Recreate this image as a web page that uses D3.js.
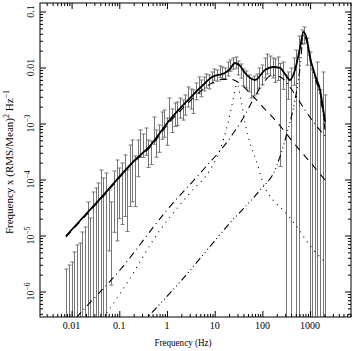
<!DOCTYPE html>
<html>
<head>
<meta charset="utf-8">
<script src="https://cdn.jsdelivr.net/npm/d3@7"></script>
<style>
body { margin: 0; background: #fff; }
svg { display: block; }
text { font-family: "Liberation Serif", "DejaVu Serif", serif; fill: #000; }
</style>
</head>
<body>
<svg width="354" height="351"></svg>
<script>
// measured power spectrum (frequency x power) with 1-sigma errors
var freq = [0.0078, 0.00886, 0.01007, 0.01143, 0.01299, 0.01476, 0.01676, 0.01904, 0.02163, 0.02458,
  0.02792, 0.03172, 0.03603, 0.04093, 0.0465, 0.05282, 0.06001, 0.06817, 0.07744, 0.08797,
  0.09994, 0.1135, 0.129, 0.1465, 0.1665, 0.1891, 0.2148, 0.244, 0.2772, 0.3149,
  0.3578, 0.4064, 0.4617, 0.5245, 0.5958, 0.6769, 0.769, 0.8736, 0.9924, 1.127,
  1.281, 1.455, 1.653, 1.877, 2.133, 2.423, 2.752, 3.127, 3.552, 4.035,
  4.584, 5.207, 5.915, 6.72, 7.634, 8.672, 9.852, 11.19, 12.71, 14.44,
  16.41, 18.64, 21.18, 24.06, 27.33, 31.05, 35.27, 40.07, 45.52, 51.71,
  58.74, 66.73, 75.81, 86.12, 97.83, 111.1, 126.3, 143.4, 162.9, 185.1,
  210.3, 238.9, 271.4, 308.3, 350.2, 397.8, 451.9, 513.4, 583.2, 662.5,
  752.6, 855, 971.3, 1103, 1253, 1424, 1618, 1838, 2088];
var power = [1.06e-6, 1.31e-6, 1.74e-6, 2.23e-6, 3.36e-6, 3.36e-6, 5.51e-6, 6.77e-6, 1.74e-5, 9.02e-6,
  2.63e-5, 3.36e-5, 4.31e-5, 7.05e-5, 5.08e-5, 6.49e-5, 3.51e-5, 2.05e-5, 7.66e-5, 1.155e-4,
  9.02e-5, 1.064e-4, 1.478e-4, 7.98e-5, 2.23e-4, 2.74e-4, 1.478e-4, 3.10e-4, 5.08e-4, 4.49e-4,
  5.51e-4, 3.36e-4, 3.36e-4, 8.66e-4, 5.08e-4, 6.23e-4, 1.064e-3, 1.155e-3, 8.31e-4, 1.971e-3,
  1.254e-3, 1.604e-3, 1.672e-3, 2.05e-3, 1.891e-3, 2.32e-3, 3.23e-3, 2.97e-3, 2.74e-3, 3.97e-3,
  5.08e-3, 4.49e-3, 5.29e-3, 5.98e-3, 5.74e-3, 6.77e-3, 7.66e-3, 7.35e-3, 8.66e-3, 8.31e-3,
  7.98e-3, 9.80e-3, 1.108e-2, 1.204e-2, 1.254e-2, 1.021e-2, 9.02e-3, 7.05e-3, 6.49e-3, 5.51e-3,
  4.67e-3, 5.08e-3, 5.51e-3, 7.05e-3, 7.98e-3, 1.064e-2, 1.254e-2, 1.155e-2, 1.064e-2, 9.80e-3,
  1.064e-2, 5.98e-3, 8.31e-3, 3.23e-3, 5.51e-3, 3.97e-3, 9.80e-3, 8.31e-3, 1.478e-2, 3.65e-2,
  3.97e-2, 2.23e-2, 9.02e-3, 3.23e-3, 2.63e-3, 4.87e-3, 1.742e-3, 3.23e-3, 1.155e-3];
var powerErr = [1.46e-6, 1.66e-6, 1.62e-6, 2.85e-6, 3.41e-6, 3.99e-6, 6.04e-6, 7.41e-6, 2.22e-5, 1.15e-5,
  3.35e-5, 3.69e-5, 4.35e-5, 7.73e-5, 5.56e-5, 6.57e-5, 2.98e-5, 1.92e-5, 6.52e-5, 1.075e-4,
  7.02e-5, 9.07e-5, 1.26e-4, 6.8e-5, 1.9e-4, 2.34e-4, 1.15e-4, 1.98e-4, 2.58e-4, 2.0e-4,
  2.8e-4, 1.72e-4, 1.51e-4, 4.4e-4, 2.58e-4, 3.17e-4, 5.4e-4, 5.87e-4, 4.23e-4, 8.8e-4,
  5.62e-4, 7.2e-4, 7.5e-4, 8.0e-4, 7.4e-4, 9.1e-4, 1.26e-3, 1.16e-3, 1.23e-3, 1.32e-3,
  1.69e-3, 1.49e-3, 1.48e-3, 1.68e-3, 1.61e-3, 1.54e-3, 1.74e-3, 1.67e-3, 1.98e-3, 1.9e-3,
  1.82e-3, 2.74e-3, 2.53e-3, 2.74e-3, 2.86e-3, 2.85e-3, 2.53e-3, 2.35e-3, 2.17e-3, 1.84e-3,
  1.82e-3, 1.97e-3, 2.15e-3, 2.75e-3, 3.1e-3, 4.14e-3, 4.88e-3, 4.49e-3, 4.14e-3, 4.38e-3,
  4.76e-3, 5.81e-3, 4.23e-3, 4.12e-3, 2.8e-3, 5.83e-3, 4.98e-3, 1.22e-2, 2.17e-2, 1.02e-2,
  1.32e-2, 1.13e-2, 9.89e-3, 5.79e-3, 3.86e-3, 7.67e-3, 2.23e-3, 5.08e-3, 2.08e-3];

// best fit model (solid) and its components
var totalFreq = [0.00763, 0.0394, 0.213, 0.440, 1.05, 3.04, 5.42, 8.78, 16.4, 20.9, 26.7, 33.9, 43.2,
  70.0, 113, 167, 234, 298, 379, 482, 614, 727, 861, 995, 1267, 1613, 2053];
var totalPow = [9.80e-6, 4.49e-5, 2.23e-4, 3.97e-4, 1.064e-3, 2.85e-3, 4.67e-3, 6.77e-3, 7.98e-3, 9.40e-3, 1.204e-2, 1.064e-2, 7.98e-3,
  5.98e-3, 9.02e-3, 1.021e-2, 9.80e-3, 7.66e-3, 5.98e-3, 9.02e-3, 2.23e-2, 4.31e-2, 3.10e-2, 1.54e-2, 7.35e-3, 3.97e-3, 1.064e-3];

var bandFreq = [0.00763, 0.0394, 0.213, 0.440, 1.05, 3.04, 5.42, 8.78, 14.2, 20.9, 27.96, 54.95, 98.1, 192.8, 531.4, 995, 2053];
var bandPow = [9.40e-6, 4.31e-5, 2.14e-4, 3.73e-4, 9.80e-4, 2.52e-3, 3.97e-3, 5.29e-3, 6.11e-3, 6.23e-3, 5.74e-3, 3.51e-3, 2.05e-3, 1.108e-3, 3.81e-4, 2.05e-4, 9.80e-5];

var lowQpoFreq = [0.00763, 0.04777, 0.1450, 0.7133, 3.035, 7.970, 12.91, 19.00, 24.19, 29.35, 35.60, 43.17, 54.95, 77.05, 102.9, 166.8, 297.8, 531.4, 903.6, 1613, 2053];
var lowQpoPow = [4.87e-8, 3.50e-7, 1.42e-6, 1.25e-5, 5.74e-5, 1.478e-4, 3.36e-4, 1.021e-3, 2.63e-3, 5.08e-3, 2.63e-3, 1.021e-3, 4.49e-4, 1.971e-4, 8.66e-5, 4.31e-5, 2.63e-5, 1.418e-5, 7.35e-6, 4.13e-6, 3.36e-6];

var hHzFreq = [0.00763, 0.01298, 0.1034, 1.0, 5.683, 18.11, 43.17, 63.54, 98.1, 158.9, 257.6, 417.4, 781.9, 1267, 2053];
var hHzPow = [2.05e-7, 3.50e-7, 2.42e-6, 2.85e-5, 1.478e-4, 4.67e-4, 1.418e-3, 2.63e-3, 4.87e-3, 7.35e-3, 6.49e-3, 3.97e-3, 1.742e-3, 9.80e-4, 5.98e-4];

var kHzFreq = [0.00763, 0.3996, 1.873, 20.93, 89.07, 183.8, 327.9, 482.4, 614.2, 727.2, 861, 995, 1267, 1613, 2053];
var kHzPow = [6.77e-9, 3.50e-7, 1.478e-6, 1.672e-5, 6.49e-5, 1.478e-4, 6.77e-4, 2.63e-3, 9.80e-3, 3.81e-2, 2.74e-2, 1.361e-2, 6.49e-3, 3.23e-3, 7.66e-4];

var xTickVals = [0.01, 0.1, 1, 10, 100, 1000];
var xTickLabels = ["0.01", "0.1", "1", "10", "100", "1000"];
var yTickVals = [0.1, 0.01, 1e-3, 1e-4, 1e-5, 1e-6];
var yTickBase = ["0.1", "0.01", "10", "10", "10", "10"];
var yTickExp = ["", "", "\u22123", "\u22124", "\u22125", "\u22126"];

// set the dimensions and margins of the graph
var margin = {top: 3, right: 3, bottom: 34, left: 40},
    width = 354 - margin.left - margin.right,
    height = 351 - margin.top - margin.bottom;

var svg = d3.select("svg")
  .append("g")
  .attr("transform", "translate(" + margin.left + "," + margin.top + ")");

var x = d3.scaleLog().domain([0.002176, 7200]).range([0, width]);
var y = d3.scaleLog().domain([3.504e-7, 0.1418]).range([height, 0]);

svg.append("clipPath").attr("id", "clip")
  .append("rect").attr("width", width).attr("height", height);

var plot = svg.append("g").attr("clip-path", "url(#clip)");

// error bars
var pts = freq.map(function(f, i) {
  return {f: f, p: power[i], e: powerErr[i]};
});
var bars = plot.append("g")
  .attr("stroke", "#767676")
  .attr("stroke-width", 1)
  .attr("fill", "none");

pts.forEach(function(d) {
  var xx = Math.round(x(d.f)) + 0.5;
  var hi = y(d.p + d.e);
  var lo = (d.p - d.e) > y.domain()[0] ? y(d.p - d.e) : height + 2;
  bars.append("line").attr("x1", xx).attr("x2", xx).attr("y1", hi).attr("y2", lo);
  bars.append("line").attr("x1", xx - 2).attr("x2", xx + 2).attr("y1", hi).attr("y2", hi);
  if (lo < height) {
    bars.append("line").attr("x1", xx - 2).attr("x2", xx + 2).attr("y1", lo).attr("y2", lo);
  }
});

// model curves
function curve(fs, ps) {
  return d3.line()
    .x(function(d) { return x(d[0]); })
    .y(function(d) { return y(d[1]); })
    .curve(d3.curveMonotoneX)(fs.map(function(f, i) { return [f, ps[i]]; }));
}

plot.append("path").attr("d", curve(bandFreq, bandPow))
  .attr("fill", "none").attr("stroke", "#000").attr("stroke-width", 1.1)
  .attr("stroke-dasharray", "7,6");
plot.append("path").attr("d", curve(lowQpoFreq, lowQpoPow))
  .attr("fill", "none").attr("stroke", "#000").attr("stroke-width", 1.1)
  .attr("stroke-dasharray", "1,5");
plot.append("path").attr("d", curve(hHzFreq, hHzPow))
  .attr("fill", "none").attr("stroke", "#000").attr("stroke-width", 1.1)
  .attr("stroke-dasharray", "7,4,1,4");
plot.append("path").attr("d", curve(kHzFreq, kHzPow))
  .attr("fill", "none").attr("stroke", "#000").attr("stroke-width", 1.1)
  .attr("stroke-dasharray", "7,3,1,3,1,3,1,3");
plot.append("path").attr("d", curve(totalFreq, totalPow))
  .attr("fill", "none").attr("stroke", "#000").attr("stroke-width", 1.8);

// ticks, all pointing into the frame
var xMinor = [], yMinor = [];
[-3, -2, -1, 0, 1, 2, 3].forEach(function(k) {
  for (var m = 2; m <= 9; m++) {
    var v = m * Math.pow(10, k);
    if (v > x.domain()[0] && v < x.domain()[1]) xMinor.push(v);
  }
});
[-7, -6, -5, -4, -3, -2, -1].forEach(function(k) {
  for (var m = 2; m <= 9; m++) {
    var v = m * Math.pow(10, k);
    if (v > y.domain()[0] && v < y.domain()[1]) yMinor.push(v);
  }
});

function ticks(axisFn, scale, vals, size, tx) {
  var g = svg.append("g").attr("transform", tx || null)
    .call(axisFn(scale).tickValues(vals).tickSize(-size).tickFormat(""));
  g.select(".domain").remove();
  g.selectAll("line").attr("stroke", "#000");
}
ticks(d3.axisBottom, x, xTickVals, 6, "translate(0," + height + ")");
ticks(d3.axisBottom, x, xMinor, 3, "translate(0," + height + ")");
ticks(d3.axisTop, x, xTickVals, 6);
ticks(d3.axisTop, x, xMinor, 3);
ticks(d3.axisLeft, y, yTickVals, 6);
ticks(d3.axisLeft, y, yMinor, 3);
ticks(d3.axisRight, y, yTickVals, 6, "translate(" + width + ",0)");
ticks(d3.axisRight, y, yMinor, 3, "translate(" + width + ",0)");

// frame
svg.append("rect").attr("width", width).attr("height", height)
  .attr("fill", "none").attr("stroke", "#000").attr("stroke-width", 1);

// tick labels
svg.append("g").selectAll("text").data(xTickVals).enter().append("text")
  .attr("x", function(d) { return x(d); })
  .attr("y", height + 12)
  .attr("text-anchor", "middle")
  .style("font-size", "10px")
  .text(function(d, i) { return xTickLabels[i]; });

yTickVals.forEach(function(v, i) {
  var t = svg.append("text")
    .attr("transform", "translate(-6," + y(v) + ") rotate(-90)")
    .attr("text-anchor", "middle")
    .style("font-size", "10px");
  t.append("tspan").text(yTickBase[i]);
  if (yTickExp[i]) {
    t.append("tspan").attr("dy", -4).style("font-size", "7.5px").text(yTickExp[i]);
  }
});

// axis titles
svg.append("text")
  .attr("x", 143).attr("y", height + 29)
  .attr("text-anchor", "middle")
  .attr("textLength", 57).attr("lengthAdjust", "spacingAndGlyphs")
  .style("font-size", "11px")
  .text("Frequency (Hz)");

var yt = svg.append("text")
  .attr("transform", "translate(-27," + 159 + ") rotate(-90)")
  .attr("text-anchor", "middle")
  .style("font-size", "11px");
yt.append("tspan").text("Frequency x (RMS/Mean)");
yt.append("tspan").attr("dy", -4).style("font-size", "8px").text("2");
yt.append("tspan").attr("dy", 4).text(" Hz");
yt.append("tspan").attr("dy", -4).style("font-size", "8px").text("\u22121");
</script>
</body>
</html>
